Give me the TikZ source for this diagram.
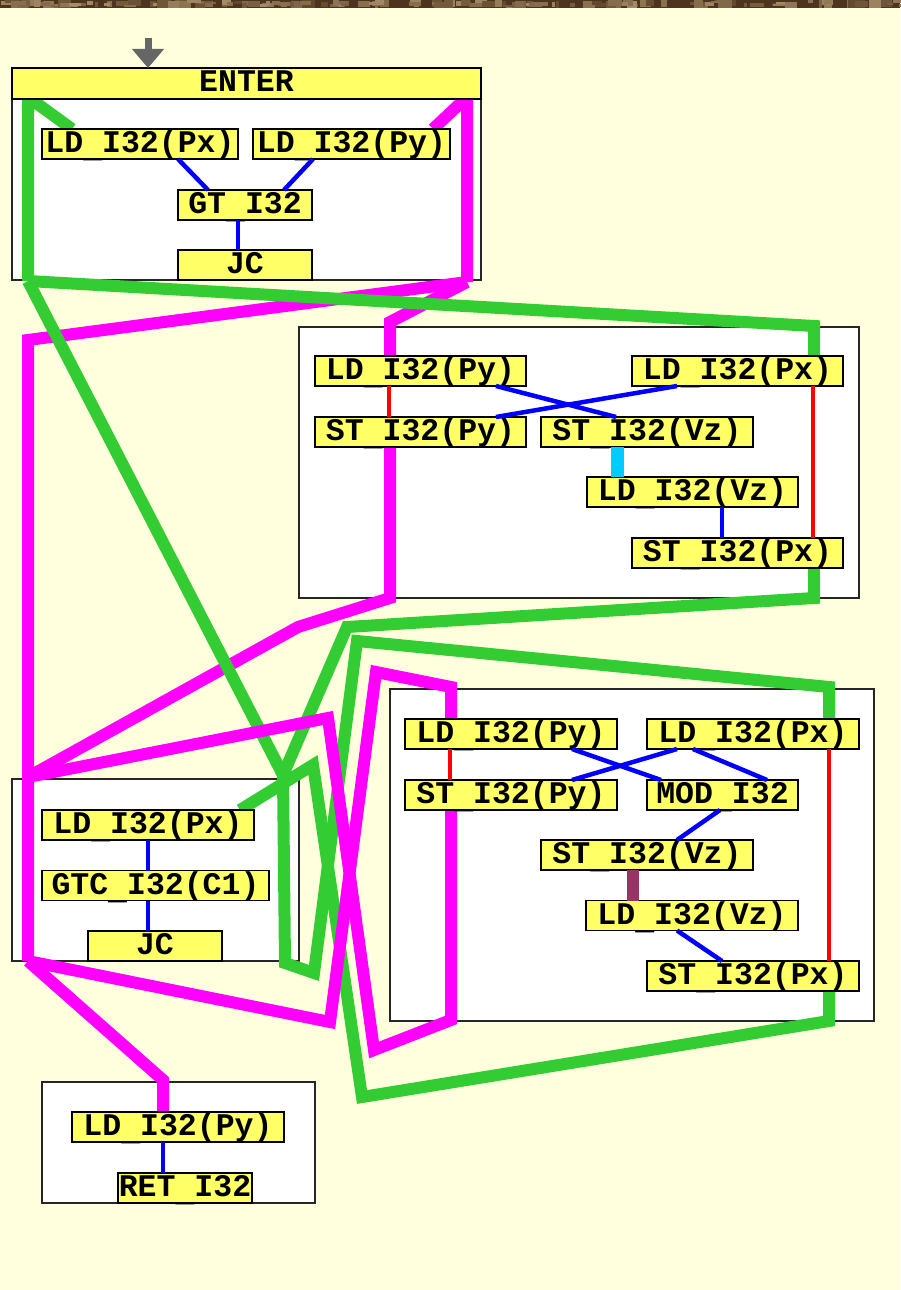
\documentclass[tikz,border=0pt]{standalone}
\usepackage{fontspec}
\newfontfamily\opfont{Liberation Mono}
\usetikzlibrary{arrows.meta,calc}

% underscore set low, so that it hangs below the operation box
\newcommand\lowbar{\raisebox{-5pt}{\_}}

\definecolor{paper}{RGB}{255,255,221}
\definecolor{opfill}{RGB}{255,255,102}
\definecolor{pxgreen}{RGB}{51,204,51}
\definecolor{pymag}{RGB}{255,0,255}
\definecolor{depblue}{RGB}{0,0,255}
\definecolor{ordred}{RGB}{255,0,0}
\definecolor{vzcyan}{RGB}{0,204,255}
\definecolor{vzmaroon}{RGB}{153,51,102}
\definecolor{bark}{RGB}{78,52,30}
\definecolor{barklight}{RGB}{178,150,112}

\pgfdeclarelayer{bg}
\pgfdeclarelayer{flow}
\pgfsetlayers{bg,flow,main}

\tikzset{
  op/.style={draw=black, line width=1.3pt, fill=opfill, inner xsep=0pt,
    inner ysep=0pt, outer sep=0pt, minimum height=30pt, text height=23.5pt,
    text depth=6.5pt, font=\opfont\bfseries\fontsize{31.5}{31.5}\selectfont},
  blockbox/.style={draw=black!85, line width=1.3pt, fill=white, inner sep=0pt,
    outer sep=0pt},
  pxflow/.style={draw=pxgreen, line width=12pt, line join=miter, miter limit=2},
  pyflow/.style={draw=pymag, line width=12pt, line join=miter, miter limit=2},
  dataedge/.style={draw=depblue, line width=4.5pt},
  orderedge/.style={draw=ordred, line width=4pt},
  vzedge/.style={draw=vzcyan, line width=13pt},
  memedge/.style={draw=vzmaroon, line width=12pt},
  entryarrow/.style={draw=black!60, line width=7pt,
    -{Triangle[width=31pt,length=19pt]}},
}

\begin{document}
\begin{tikzpicture}[x=1pt,y=-1pt]
\useasboundingbox (0,0) rectangle (900,1290);

\begin{pgfonlayer}{bg}
  \fill[paper] (0,0) rectangle (900,1290);
  % textured strip along the top edge
  \fill[bark] (0,0) rectangle (900,8);
  \pgfmathsetseed{11}
  \foreach \i in {1,...,160}{
    \pgfmathsetmacro\xx{rnd*900}
    \pgfmathsetmacro\ww{3+rnd*12}
    \pgfmathsetmacro\hh{2+rnd*6}
    \pgfmathsetmacro\yy{rnd*(8-\hh)}
    \pgfmathsetmacro\tt{20+rnd*70}
    \fill[barklight!\tt!bark] (\xx,\yy) rectangle ++(\ww,\hh);
  }
  % basic block frames
  \node[blockbox, minimum width=469pt, minimum height=212pt] (blkA) at (246.5,174) {};
  \node[blockbox, minimum width=560pt, minimum height=271pt] (blkB) at (579,462.5) {};
  \node[blockbox, minimum width=287pt, minimum height=182pt] (blkC) at (155.5,870) {};
  \node[blockbox, minimum width=484pt, minimum height=332pt] (blkD) at (632,855) {};
  \node[blockbox, minimum width=273pt, minimum height=121pt] (blkE) at (178.5,1142.5) {};
\end{pgfonlayer}

% ---------- entry block ----------
\node[op, minimum width=469pt, minimum height=31pt] (enter) at (246.5,83.5) {ENTER};
\coordinate (entry) at (148,38);
\draw[entryarrow] (entry) -- (entry |- enter.north);

\node[op, minimum width=196pt] (e1) at (140,144) {LD\lowbar I32(Px)};
\node[op, minimum width=197pt] (e2) at (351.5,144) {LD\lowbar I32(Py)};
\node[op, minimum width=134pt] (e3) at (245,205) {GT\lowbar I32};
\node[op, minimum width=134pt] (e4) at (245,265) {JC};

% ---------- swap block ----------
\node[op, minimum width=211pt] (s1) at (420.5,371) {LD\lowbar I32(Py)};
\node[op, minimum width=211pt] (s2) at (737.5,371) {LD\lowbar I32(Px)};
\node[op, minimum width=211pt] (s3) at (420.5,432) {ST\lowbar I32(Py)};
\node[op, minimum width=212pt] (s4) at (647,432) {ST\lowbar I32(Vz)};
\node[op, minimum width=211pt] (s5) at (692.5,492) {LD\lowbar I32(Vz)};
\node[op, minimum width=211pt] (s6) at (737.5,553) {ST\lowbar I32(Px)};

% ---------- loop header ----------
\node[op, minimum width=212pt] (h1) at (148,825) {LD\lowbar I32(Px)};
\node[op, minimum width=227pt] (h2) at (155.5,885.5) {GTC\lowbar I32(C1)};
\node[op, minimum width=134pt] (h3) at (155,946) {JC};

% ---------- loop body ----------
\node[op, minimum width=212pt] (b1) at (511,734) {LD\lowbar I32(Py)};
\node[op, minimum width=212pt] (b2) at (753,734) {LD\lowbar I32(Px)};
\node[op, minimum width=212pt] (b3) at (511,795) {ST\lowbar I32(Py)};
\node[op, minimum width=151pt] (b4) at (722.5,795) {MOD\lowbar I32};
\node[op, minimum width=212pt] (b5) at (647,855) {ST\lowbar I32(Vz)};
\node[op, minimum width=212pt] (b6) at (692,915.5) {LD\lowbar I32(Vz)};
\node[op, minimum width=212pt] (b7) at (753,976) {ST\lowbar I32(Px)};

% ---------- exit block ----------
\node[op, minimum width=212pt] (r1) at (178,1127) {LD\lowbar I32(Py)};
\node[op, minimum width=134pt] (r2) at (185,1188) {RET\lowbar I32};

% ---------- dependences inside the blocks ----------
\draw[dataedge] ([xshift=38]e1.south) -- ([xshift=-37]e3.north);
\draw[dataedge] ([xshift=-38.5]e2.south) -- ([xshift=39]e3.north);
\draw[dataedge] ([xshift=-7]e3.south) -- ([xshift=-7]e4.north);

\draw[orderedge] ([xshift=-31.5]s1.south) -- ([xshift=-31.5]s3.north);
\draw[orderedge] ([xshift=75.5]s2.south) -- ([xshift=75.5]s6.north);
\draw[dataedge] ([xshift=75.5]s1.south) -- ([xshift=-31]s4.north);
\draw[dataedge] ([xshift=-60.5]s2.south) -- ([xshift=75.5]s3.north);
\draw[vzedge] ([xshift=-30]s4.south) -- ([xshift=-75.5]s5.north);
\draw[dataedge] ([xshift=29.5]s5.south) -- ([xshift=-15.5]s6.north);

\draw[dataedge] (h1.south) -- (h1.south |- h2.north);
\draw[dataedge] (h2.south -| h1.south) -- (h3.north -| h1.south);

\draw[orderedge] ([xshift=-61]b1.south) -- ([xshift=-61]b3.north);
\draw[orderedge] ([xshift=76]b2.south) -- ([xshift=76]b7.north);
\draw[dataedge] ([xshift=61]b1.south) -- ([xshift=-61.5]b4.north);
\draw[dataedge] ([xshift=-76]b2.south) -- ([xshift=61]b3.north);
\draw[dataedge] ([xshift=-60]b2.south) -- ([xshift=44.5]b4.north);
\draw[dataedge] ([xshift=-2.5]b4.south) -- ([xshift=30]b5.north);
\draw[memedge] ([xshift=-14]b5.south) -- ([xshift=-59]b6.north);
\draw[dataedge] ([xshift=-15]b6.south) -- ([xshift=-31]b7.north);

\draw[dataedge] ([xshift=-15]r1.south) -- ([xshift=-22]r2.north);

% ---------- variable flows between the blocks ----------
% Px route points
\coordinate (pxa) at (28,97);
\coordinate (pxj) at (28,281);
\coordinate (pxb) at (814,326);
\coordinate (pxm) at (283,775);
\coordinate (pxc) at (814,598);
\coordinate (pxd) at (347,627);
\coordinate (pxe) at (285,963);
\coordinate (pxf) at (314,973);
\coordinate (pxg) at (357,641);
\coordinate (pxh) at (829,687);
\coordinate (pxi) at (829,1021);
\coordinate (pxk) at (362,1097);
\coordinate (pxl) at (313,765);
% Py route points
\coordinate (pya) at (467,97);
\coordinate (pyj) at (467,282);
\coordinate (pyb) at (390,322);
\coordinate (pyc) at (28,340);
\coordinate (pym) at (28,777);
\coordinate (pyn) at (28,961);
\coordinate (pyd) at (390,598);
\coordinate (pye) at (298,627);
\coordinate (pyf) at (451,1020);
\coordinate (pyg) at (374,1050);
\coordinate (pyh) at (328,718);
\coordinate (pyk) at (330,1022);
\coordinate (pyl) at (376,672);
\coordinate (pyo) at (451,687);
\coordinate (pyp) at (163,1080);

\begin{pgfonlayer}{flow}
  \draw[pyflow] ([xshift=81.5]e2.north) -- (pya) -- (pyj);
  \draw[pyflow] (pyj) -- (pyb) -- ([xshift=-30.5]s1.north);
  \draw[pyflow] (pyj) -- (pyc) -- (pym) -- (pyn);
  \draw[pyflow] ([xshift=-30.5]s3.south) -- (pyd) -- (pye) -- (pym);

  \draw[pxflow] ([xshift=-68]e1.north) -- (pxa) -- (pxj);
  \draw[pxflow] (pxj) -- (pxb) -- ([xshift=76.5]s2.north);
  \draw[pxflow] (pxj) -- (pxm);
  \draw[pxflow] ([xshift=76.5]s6.south) -- (pxc) -- (pxd) -- (pxm);
  \draw[pxflow] (pxm) -- (pxe) -- (pxf) -- (pxg) -- (pxh) -- ([xshift=76]b2.north);
  \draw[pxflow] ([xshift=76]b7.south) -- (pxi) -- (pxk) -- (pxl) -- ([xshift=92]h1.north);

  \draw[pyflow] ([xshift=-60]b3.south) -- (pyf) -- (pyg) -- (pyh) -- (pym);
  \draw[pyflow] (pyn) -- (pyk) -- (pyl) -- (pyo) -- ([xshift=-60]b1.north);
  \draw[pyflow] (pyn) -- (pyp) -- ([xshift=-15]r1.north);
\end{pgfonlayer}
\end{tikzpicture}
\end{document}
